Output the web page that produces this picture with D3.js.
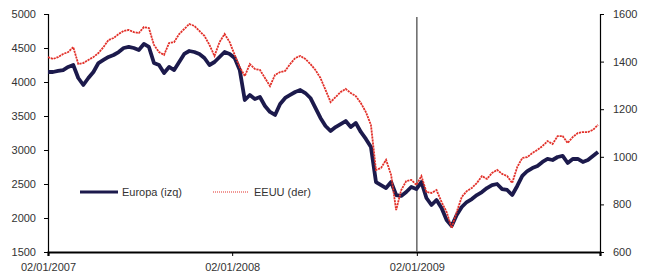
<!DOCTYPE html>
<html>
<head>
<meta charset="utf-8">
<script src="https://cdn.jsdelivr.net/npm/d3@7"></script>
<style>
  body { margin: 0; background: #fff; }
  text { font-family: "Liberation Sans", Arial, sans-serif; }
</style>
</head>
<body>
<script>
// series, one point every 10 days from 02/01/2007
var europa = [4147, 4147, 4162, 4176, 4221, 4250, 4059, 3956, 4059, 4147,
  4279, 4324, 4368, 4397, 4441, 4500, 4515, 4500, 4471, 4559,
  4515, 4279, 4250, 4132, 4221, 4176, 4294, 4412, 4456, 4441,
  4412, 4353, 4250, 4294, 4368, 4441, 4412, 4353, 4176, 3735,
  3809, 3750, 3779, 3647, 3559, 3515, 3676, 3765, 3809, 3853,
  3882, 3838, 3765, 3618, 3471, 3353, 3279, 3338, 3382, 3426,
  3338, 3397, 3265, 3162, 3044, 2529, 2485, 2441, 2529, 2338,
  2324, 2382, 2456, 2426, 2529, 2294, 2191, 2265, 2147, 1971,
  1882, 2044, 2162, 2235, 2279, 2338, 2382, 2441, 2485, 2500,
  2426, 2412, 2338, 2471, 2618, 2691, 2735, 2765, 2824, 2868,
  2853, 2897, 2912, 2809, 2868, 2868, 2824, 2853, 2912, 2971];

var eeuu = [1419, 1411, 1419, 1432, 1440, 1461, 1390, 1394, 1407, 1419,
  1436, 1461, 1491, 1499, 1516, 1529, 1533, 1524, 1520, 1545,
  1541, 1470, 1440, 1428, 1478, 1482, 1516, 1537, 1558, 1550,
  1529, 1508, 1470, 1424, 1482, 1516, 1482, 1428, 1377, 1339,
  1390, 1369, 1365, 1331, 1297, 1344, 1356, 1361, 1390, 1415,
  1424, 1411, 1390, 1365, 1331, 1281, 1230, 1251, 1272, 1285,
  1268, 1255, 1226, 1188, 1134, 945, 953, 987, 924, 776,
  860, 898, 903, 882, 919, 852, 848, 860, 810, 768,
  701, 768, 831, 856, 869, 890, 919, 907, 932, 945,
  928, 919, 890, 957, 995, 999, 1016, 1029, 1045, 1066,
  1054, 1087, 1087, 1058, 1083, 1100, 1104, 1104, 1113, 1134];

var leftTicks = [1500, 2000, 2500, 3000, 3500, 4000, 4500, 5000];
var rightTicks = [600, 800, 1000, 1200, 1400, 1600];
var xTickLabels = ["02/01/2007", "02/01/2008", "02/01/2009"];
var seriesNames = ["Europa (izq)", "EEUU (der)"];

function drawChart() {
  var parse = d3.timeParse("%d/%m/%Y");
  var start = parse("02/01/2007");
  var dates = europa.map(function(d, i) { return d3.timeDay.offset(start, 10 * i); });
  var xTicks = xTickLabels.map(parse);

  var width = 647, height = 280;
  var x0 = 48, x1 = 600, y0 = 14, y1 = 252;

  var svg = d3.select("body").append("svg").attr("width", width).attr("height", height);

  var x = d3.scaleTime().domain([start, parse("31/12/2009")]).range([x0, x1]);
  var yL = d3.scaleLinear().domain([1500, 5000]).range([y1, y0]);
  var yR = d3.scaleLinear().domain([600, 1600]).range([y1, y0]);

  // y axes
  var axL = svg.append("g").attr("transform", "translate(" + x0 + ",0)")
    .call(d3.axisLeft(yL).tickValues(leftTicks).tickSize(4).tickPadding(8).tickFormat(d3.format("d")));
  var axR = svg.append("g").attr("transform", "translate(" + x1 + ",0)")
    .call(d3.axisRight(yR).tickValues(rightTicks).tickSize(4).tickPadding(9).tickFormat(d3.format("d")));

  [axL, axR].forEach(function(a) {
    a.select(".domain").attr("stroke", "#000").attr("stroke-width", 1.2);
    a.selectAll(".tick line").attr("stroke", "#000");
    a.selectAll("text").attr("fill", "#333").style("font-size", "11px");
  });

  // x axis
  var axB = svg.append("g").attr("transform", "translate(0," + y1 + ")")
    .call(d3.axisBottom(x).tickValues(xTicks).tickSize(4).tickPadding(7)
      .tickFormat(function(d, i) { return xTickLabels[i]; }));
  axB.select(".domain").attr("stroke", "#000").attr("stroke-width", 2.2);
  axB.selectAll(".tick line").attr("stroke", "#000");
  axB.selectAll("text").attr("fill", "#333").style("font-size", "11px");

  // vertical marker at 02/01/2009
  svg.append("line")
    .attr("x1", x(xTicks[2])).attr("x2", x(xTicks[2]))
    .attr("y1", 17).attr("y2", y1)
    .attr("stroke", "#666").attr("stroke-width", 1.5);

  var lineL = d3.line().x(function(d, i) { return x(dates[i]); }).y(function(d) { return yL(d); });
  var lineR = d3.line().x(function(d, i) { return x(dates[i]); }).y(function(d) { return yR(d); });

  svg.append("path").datum(europa)
    .attr("d", lineL).attr("fill", "none")
    .attr("stroke", "#1c1a4c").attr("stroke-width", 3.8).attr("stroke-linejoin", "round");

  svg.append("path").datum(eeuu)
    .attr("d", lineR).attr("fill", "none")
    .attr("stroke", "#e2312a").attr("stroke-width", 1.8).attr("stroke-dasharray", "2.2,0.8");

  // legend
  var leg = svg.append("g");
  leg.append("line").attr("x1", 80).attr("x2", 118).attr("y1", 192).attr("y2", 192)
    .attr("stroke", "#1c1a4c").attr("stroke-width", 3);
  leg.append("text").attr("x", 122).attr("y", 196).attr("fill", "#333").style("font-size", "11px").text(seriesNames[0]);
  leg.append("line").attr("x1", 213).attr("x2", 248).attr("y1", 192).attr("y2", 192)
    .attr("stroke", "#e2312a").attr("stroke-width", 1.2).attr("stroke-dasharray", "1,1");
  leg.append("text").attr("x", 254).attr("y", 196).attr("fill", "#333").style("font-size", "11px").text(seriesNames[1]);
}

drawChart();
</script>
</body>
</html>
